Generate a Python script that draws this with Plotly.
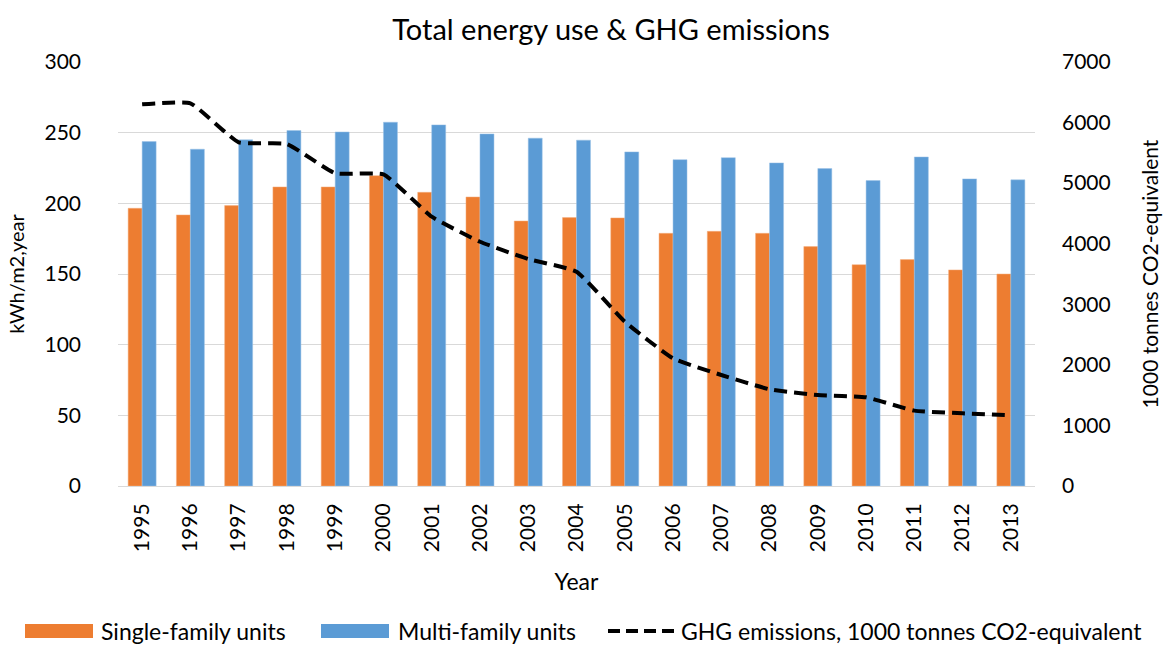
import plotly.graph_objects as go

years = [str(y) for y in range(1995, 2014)]
single_family = [196.5, 191.8, 198.4, 211.6, 211.6, 219.6, 207.8, 204.5, 187.5, 189.9,
                 189.7, 178.8, 180.2, 178.8, 169.4, 156.6, 160.2, 152.9, 150.0]
multi_family = [243.7, 238.3, 244.9, 251.5, 250.5, 257.4, 255.5, 249.1, 246.1, 244.7,
                236.4, 230.9, 232.3, 228.6, 224.6, 216.1, 232.8, 217.3, 216.6]
ghg = [6302, 6318, 5674, 5646, 5163, 5146, 4446, 4033, 3748, 3538,
       2713, 2108, 1833, 1596, 1502, 1464, 1244, 1200, 1167]
names = ["Single-family units", "Multi-family units",
         "GHG emissions, 1000 tonnes CO2-equivalent"]

FONT = "Lato"
ORANGE = "#ED7D31"
BLUE = "#5B9BD5"
W, H = 1174, 645
ML, MR, MT, MB = 118, 139, 62, 159
PW, PH = W - ML - MR, H - MT - MB


def px(x):
    return (x - ML) / PW


def py(y):
    return (H - MB - y) / PH


fig = go.Figure()
fig.add_trace(go.Bar(x=years, y=single_family, name=names[0], showlegend=False,
                     marker=dict(color=ORANGE, line=dict(color="#F4B183", width=0.5))))
fig.add_trace(go.Bar(x=years, y=multi_family, name=names[1], showlegend=False,
                     marker=dict(color=BLUE, line=dict(color="#9DC3E6", width=0.5))))
fig.add_trace(go.Scatter(x=years, y=ghg, name=names[2], showlegend=False,
                         yaxis="y2", mode="lines",
                         line=dict(color="black", width=4, dash="13px,7px",
                                   shape="spline", smoothing=0.4)))

# Legend drawn at the bottom, laid out like the original
LEG_Y = 631
shapes = [
    dict(type="rect", xref="paper", yref="paper", x0=px(25), x1=px(93),
         y0=py(LEG_Y + 7), y1=py(LEG_Y - 7), fillcolor=ORANGE, line=dict(width=0)),
    dict(type="rect", xref="paper", yref="paper", x0=px(321), x1=px(389),
         y0=py(LEG_Y + 7), y1=py(LEG_Y - 7), fillcolor=BLUE, line=dict(width=0)),
    dict(type="line", xref="paper", yref="paper", x0=px(608), x1=px(677),
         y0=py(LEG_Y), y1=py(LEG_Y), line=dict(color="black", width=4, dash="12px,6px")),
]
annotations = []
for name, x0 in zip(names, [99, 396, 679]):
    annotations.append(dict(text=name, xref="paper", yref="paper", x=px(x0), y=py(LEG_Y),
                            xanchor="left", yanchor="middle", showarrow=False,
                            font=dict(size=23, family=FONT, color="black")))

fig.update_layout(
    width=W, height=H,
    margin=dict(l=ML, r=MR, t=MT, b=MB, autoexpand=False),
    paper_bgcolor="white", plot_bgcolor="white",
    font=dict(family=FONT, size=21, color="black"),
    title=dict(text="Total energy use & GHG emissions", x=611 / W, xanchor="center",
               y=1 - 30 / H, yanchor="middle", font=dict(size=29, family=FONT)),
    barmode="group", bargap=0.42, bargroupgap=0,
    showlegend=False,
    shapes=shapes, annotations=annotations,
    xaxis=dict(title=dict(text="Year", font=dict(size=23), standoff=22),
               tickangle=-90, tickfont=dict(size=21), showgrid=False,
               showline=True, linecolor="#d9d9d9", linewidth=1, ticks="",
               ticklabelstandoff=8, automargin=False),
    yaxis=dict(title=dict(text="kWh/m2,year", font=dict(size=20), standoff=14),
               range=[0, 300], dtick=50, tickfont=dict(size=21),
               showgrid=True, gridcolor="#d9d9d9", gridwidth=1,
               zeroline=False, ticks="", showline=False,
               ticklabelstandoff=36, automargin=False),
    yaxis2=dict(title=dict(text="1000 tonnes CO2-equivalent", font=dict(size=21), standoff=33),
                range=[0, 7000], dtick=1000, overlaying="y", side="right",
                tickfont=dict(size=21), showgrid=False, zeroline=False, ticks="",
                showline=False, ticklabelstandoff=26, automargin=False),
)

fig.write_html("out.html", config={"displayModeBar": False},
               post_script="document.body.style.margin='0';")
